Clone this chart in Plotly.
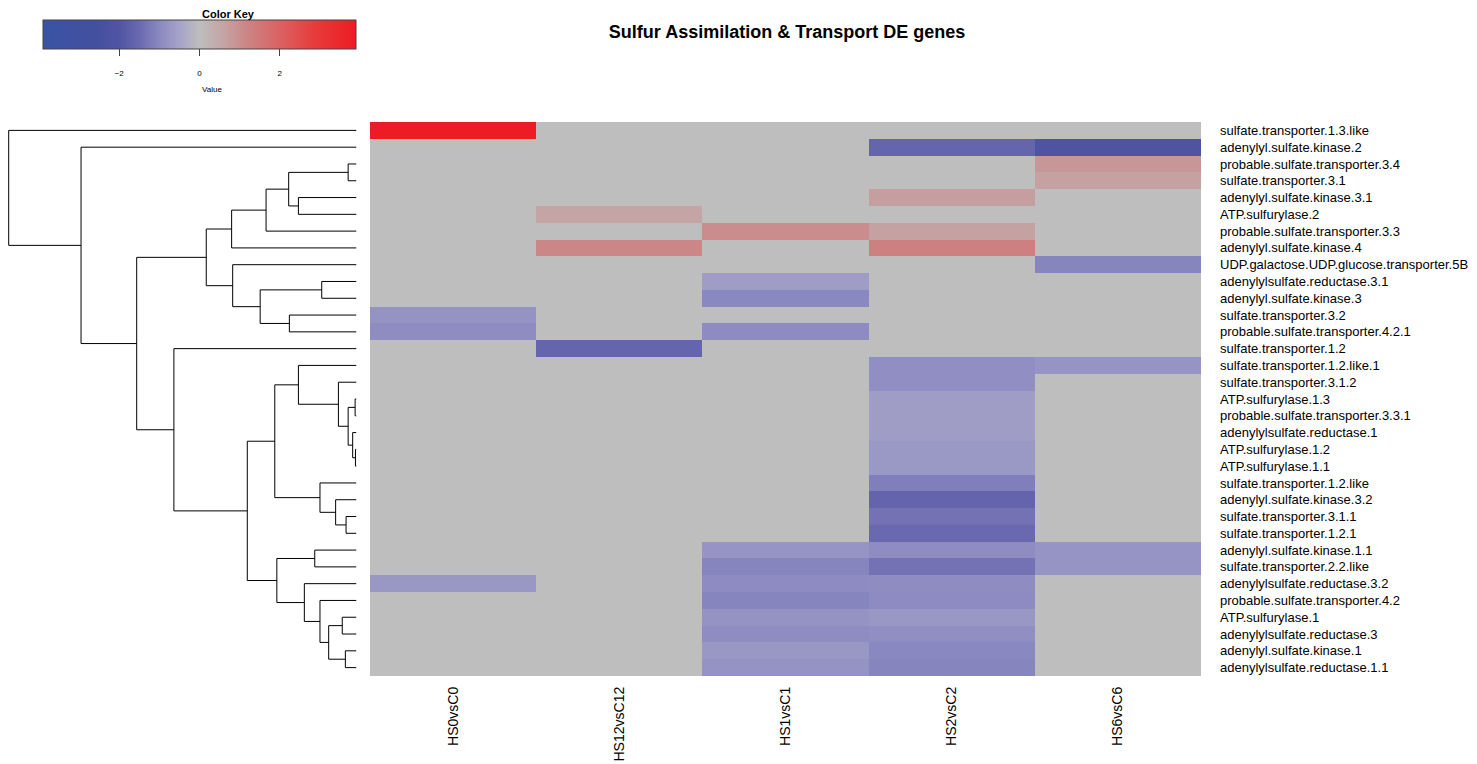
import plotly.graph_objects as go

# row order as drawn (top to bottom)
genes = [
    "sulfate.transporter.1.3.like", "adenylyl.sulfate.kinase.2",
    "probable.sulfate.transporter.3.4", "sulfate.transporter.3.1",
    "adenylyl.sulfate.kinase.3.1", "ATP.sulfurylase.2",
    "probable.sulfate.transporter.3.3", "adenylyl.sulfate.kinase.4",
    "UDP.galactose.UDP.glucose.transporter.5B", "adenylylsulfate.reductase.3.1",
    "adenylyl.sulfate.kinase.3", "sulfate.transporter.3.2",
    "probable.sulfate.transporter.4.2.1", "sulfate.transporter.1.2",
    "sulfate.transporter.1.2.like.1", "sulfate.transporter.3.1.2",
    "ATP.sulfurylase.1.3", "probable.sulfate.transporter.3.3.1",
    "adenylylsulfate.reductase.1", "ATP.sulfurylase.1.2", "ATP.sulfurylase.1.1",
    "sulfate.transporter.1.2.like", "adenylyl.sulfate.kinase.3.2",
    "sulfate.transporter.3.1.1", "sulfate.transporter.1.2.1",
    "adenylyl.sulfate.kinase.1.1", "sulfate.transporter.2.2.like",
    "adenylylsulfate.reductase.3.2", "probable.sulfate.transporter.4.2",
    "ATP.sulfurylase.1", "adenylylsulfate.reductase.3",
    "adenylyl.sulfate.kinase.1", "adenylylsulfate.reductase.1.1",
]
comparisons = ["HS0vsC0", "HS12vsC12", "HS1vsC1", "HS2vsC2", "HS6vsC6"]

# log fold change per comparison (0 = not DE)
hs0_c0 = [3.9, 0, 0, 0, 0, 0, 0, 0, 0, 0, 0, -0.8, -0.92, 0, 0, 0, 0,
          0, 0, 0, 0, 0, 0, 0, 0, 0, 0, -0.72, 0, 0, 0, 0, 0]
hs12_c12 = [0, 0, 0, 0, 0, 0.6, 0, 1.15, 0, 0, 0, 0, 0, -1.6, 0, 0, 0,
            0, 0, 0, 0, 0, 0, 0, 0, 0, 0, 0, 0, 0, 0, 0, 0]
hs1_c1 = [0, 0, 0, 0, 0, 0, 1.05, 0, 0, -0.62, -1.0, 0, -0.95, 0, 0, 0, 0,
          0, 0, 0, 0, 0, 0, 0, 0, -0.78, -1.05, -0.95, -1.05, -0.8, -0.92, -0.72, -0.8]
hs2_c2 = [0, -1.6, 0, 0, 0.7, 0, 0.65, 1.3, 0, 0, 0, 0, 0, 0, -0.88, -0.88, -0.62,
          -0.62, -0.62, -0.7, -0.7, -1.15, -1.62, -1.35, -1.5, -0.92, -1.35, -0.92, -0.95, -0.72, -0.88, -1.0, -1.05]
hs6_c6 = [0, -2.1, 0.85, 0.65, 0, 0, 0, 0, -1.05, 0, 0, 0, 0, 0, -0.78, 0, 0,
          0, 0, 0, 0, 0, 0, 0, 0, -0.78, -0.78, 0, 0, 0, 0, 0, 0]

# row dendrogram merges: (node, left, right, height); ints are row indices
merges = [
    ("G", 2, 3, 0.24), ("H", 4, 5, 1.67), ("F", "G", "H", 1.95),
    ("E", "F", 6, 2.60), ("D", "E", 7, 3.59),
    ("K", 9, 10, 1.00), ("L", 11, 12, 1.93), ("J", "K", "L", 2.77),
    ("I", 8, "J", 3.56), ("C", "D", "I", 4.32),
    ("S", 16, 17, 0.04), ("U", 19, 20, 0.03), ("T", 18, "U", 0.11),
    ("R", "S", "T", 0.24), ("Q", 15, "R", 0.52), ("P", 14, "Q", 1.67),
    ("X", 23, 24, 0.30), ("W", 22, "X", 0.60), ("V", 21, "W", 1.05),
    ("O", "P", "V", 2.35),
    ("Z", 25, 26, 1.20), ("AD", 29, 30, 0.41), ("AE", 31, 32, 0.32),
    ("AC", "AD", "AE", 0.80), ("AB", 28, "AC", 1.05), ("AA", 27, "AB", 1.50),
    ("Y", "Z", "AA", 2.29), ("N", "O", "Y", 3.14), ("M", 13, "N", 5.25),
    ("B", "C", "M", 6.32), ("A", 1, "B", 7.92), ("root", 0, "A", 10.0),
]

key_min, key_max = -3.9, 3.9
key_ticks = [-2, 0, 2]
key_stops = [(-3.9, "#3953a4"), (-2.6, "#434f9f"), (-2.0, "#5055a3"),
             (-1.5, "#6a69b0"), (-1.0, "#8a88c0"), (-0.5, "#a5a3c8"),
             (0.0, "#bebebe"), (0.6, "#c4a4a4"), (1.2, "#cc8484"),
             (2.0, "#da6262"), (2.9, "#e83a3a"), (3.9, "#ed1c24")]
colorscale = [[(v - key_min) / (key_max - key_min), c] for v, c in key_stops]

z = [list(r) for r in zip(hs0_c0, hs12_c12, hs1_c1, hs2_c2, hs6_c6)]

W, H = 1477, 764
# page body adds 8px, so layout positions are given in page px minus 8
top, bottom = 114, 668
y_dom = [1 - bottom / H, 1 - top / H]

fig = go.Figure()
fig.add_trace(go.Heatmap(
    z=z, x=comparisons, y=genes, colorscale=colorscale,
    zmin=key_min, zmax=key_max,
    colorbar=dict(
        orientation="h", x=191.5 / W, xanchor="center", y=1 - 12 / H, yanchor="top",
        lenmode="pixels", len=313, thickness=29, xpad=0, ypad=0,
        outlinewidth=1, outlinecolor="#444",
        tickvals=key_ticks, ticktext=["<br>\u22122", "<br>0", "<br>2"],
        ticks="outside", ticklen=7, tickcolor="#444",
        tickfont=dict(size=8, color="black"),
    ),
    hovertemplate="%{y}<br>%{x}: %{z}<extra></extra>",
))

# dendrogram line coordinates from the merge table
pos = {i: (float(i), 0.0) for i in range(len(genes))}
dx, dy = [], []
for name, left, right, h in merges:
    yl, hl = pos[left]
    yr, hr = pos[right]
    dx += [hl, h, h, hr, None]
    dy += [yl, yl, yr, yr, None]
    pos[name] = ((yl + yr) / 2, h)

fig.add_trace(go.Scatter(
    x=dx, y=dy, mode="lines", line=dict(color="black", width=1),
    xaxis="x2", yaxis="y2", hoverinfo="skip", showlegend=False,
))

n = len(genes)
fig.update_layout(
    width=W, height=H, autosize=False,
    margin=dict(l=0, r=0, t=0, b=0),
    paper_bgcolor="white", plot_bgcolor="white",
    font=dict(family="Liberation Sans, Arial, sans-serif", color="black"),
    title=dict(text="<b>Sulfur Assimilation & Transport DE genes</b>",
               x=779 / W, xanchor="center", y=1 - 24 / H, yanchor="middle",
               font=dict(size=18, color="black")),
    xaxis=dict(domain=[362 / W, 1193 / W], tickangle=-90, showgrid=False,
               zeroline=False, showline=False, ticks="", ticklabelstandoff=7,
               tickfont=dict(size=14)),
    yaxis=dict(domain=y_dom, side="right", autorange="reversed", showgrid=False,
               zeroline=False, showline=False, ticks="", ticklabelstandoff=18,
               tickfont=dict(size=13)),
    xaxis2=dict(domain=[0, 348.5 / W], range=[10.02, 0], visible=False),
    yaxis2=dict(domain=y_dom, range=[n - 0.5, -0.5], visible=False, anchor="x2"),
    annotations=[
        dict(text="<b>Color Key</b>", x=192 / W, y=1 - 6.5 / H, xref="paper", yref="paper",
             yanchor="middle", showarrow=False, font=dict(size=11, color="black")),
        dict(text="Value", x=192 / W, y=1 - 81 / H, xref="paper", yref="paper",
             yanchor="middle", showarrow=False, font=dict(size=8, color="black")),
    ],
)

fig.write_html("out.html")
